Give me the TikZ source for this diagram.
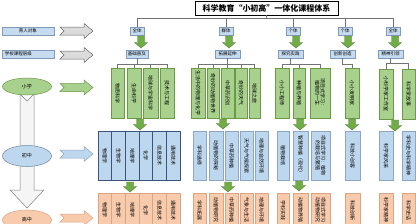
\documentclass[tikz,border=0pt]{standalone}
\usepackage{fontspec}
\usepackage{graphicx}
\setmainfont{Noto Sans CJK SC}
\usetikzlibrary{calc,shapes.geometric}
\XeTeXlinebreaklocale "zh"
\XeTeXlinebreakskip = 0pt plus 1pt

\definecolor{gF}{HTML}{A9D18E}
\definecolor{gB}{HTML}{6A9A45}
\definecolor{gA}{HTML}{70AD47}
\definecolor{gAB}{HTML}{4F7F32}
\definecolor{bF}{HTML}{BDD7EE}
\definecolor{bB}{HTML}{8EA6C2}
\definecolor{bD}{HTML}{3B5578}
\definecolor{oF}{HTML}{F8CBAD}
\definecolor{oB}{HTML}{D9A585}
\definecolor{lF}{HTML}{C6DBF0}
\definecolor{lB}{HTML}{7F9BBA}

\newcommand\vt[2]{\rotatebox{-90}{\parbox{#1}{\centering\fontsize{5}{5.6}\selectfont #2}}}
\newcommand\dnarr[3]{\path[darr] (#1-3.5,#2) -- (#1+3.5,#2) -- (#1+3.5,#3-5.5) -- (#1+6.5,#3-5.5) -- (#1,#3) -- (#1-6.5,#3-5.5) -- (#1-3.5,#3-5.5) -- cycle;}
\newcommand\rarr[2]{\path[#2] (60,#1-4) -- (84,#1-4) -- (84,#1-7.5) -- (93,#1) -- (84,#1+7.5) -- (84,#1+4) -- (60,#1+4) -- (64,#1) -- cycle;}

\begin{document}
\begin{tikzpicture}[x=1pt,y=-1pt,
  tl/.style={draw=black!55, line width=0.5pt},
  gbox/.style={draw=gB, fill=gF, line width=0.5pt, inner sep=0pt, minimum height=50pt},
  bbox/.style={draw=bB, fill=bF, line width=0.5pt, inner sep=0pt, minimum height=49pt},
  bdbox/.style={bbox, draw=bD},
  obox/.style={draw=oB, fill=oF, line width=0.5pt, inner sep=0pt, minimum height=34pt},
  lbox/.style={draw=lB, fill=lF, line width=0.5pt, inner sep=0pt, minimum height=8pt, font=\fontsize{4.5}{5}\selectfont},
  darr/.style={fill=gA, draw=gAB, line width=0.4pt},
  ell/.style={ellipse, inner sep=0pt, line width=0.5pt, font=\fontsize{5}{5}\selectfont}]
\useasboundingbox (0,0) rectangle (416,223);
\clip (0,0) rectangle (416,223);
\fill[white] (0,0) rectangle (416,223);

% title
\node[draw=black, line width=0.7pt, minimum width=143pt, minimum height=14pt, inner sep=0pt, font=\fontsize{8}{8}\selectfont\bfseries] (title) at (266.5,8) {科学教育“小初高”一体化课程体系};

% left labels
\node[lbox, minimum width=52pt] (yr) at (28,31) {育人对象};
\node[lbox, minimum width=52pt, text width=46pt, align=left] (kc) at (28,54) {学校课程层级};
\rarr{31}{fill=black!14, draw=black!60, line width=0.5pt}
\rarr{55}{fill=black!14, draw=black!60, line width=0.5pt}
\rarr{87.5}{fill=gF, draw=gB, line width=0.5pt}
\rarr{154}{fill=bF, draw=bB, line width=0.5pt}
\rarr{218}{fill=oF, draw=oB, line width=0.5pt}

% big vertical arrow
\path[fill=black!4, draw=black!50, line width=0.5pt] (20,94) -- (27,101) -- (34,94) -- (34,190) -- (44,190) -- (27,208) -- (10,190) -- (20,190) -- cycle;
\node[ell, fill=gF, draw=gB, minimum width=49pt, minimum height=17pt] (xx) at (27,86.5) {小学};
\node[ell, fill=bF, draw=bB!80!black, minimum width=49pt, minimum height=21pt] (cz) at (27,156) {初中};
\node[ell, fill=oF, draw=oB, minimum width=49pt, minimum height=20pt] (gz) at (27,220) {高中};

% top boxes
\node[lbox, minimum width=14pt] (t1) at (137,31) {全体};
\node[lbox, minimum width=14pt] (t2) at (226,31) {群体};
\node[lbox, minimum width=14pt] (t3) at (293,31) {个体};
\node[lbox, minimum width=14pt] (t4) at (345,31) {个体};
\node[lbox, minimum width=14pt] (t5) at (393,31) {全体};
\foreach \t in {t1,t2,t3,t4,t5}{\draw[tl] (title.south) -- ++(0,3) -| (\t.north);}

% mid boxes
\node[lbox, minimum width=22pt] (m1) at (137,54) {基础普及};
\node[lbox, minimum width=25pt] (m2) at (227.5,54) {拓展延伸};
\node[lbox, minimum width=25pt] (m3) at (290.5,54) {探究实践};
\node[lbox, minimum width=25pt] (m4) at (342.5,54) {创新创造};
\node[lbox, minimum width=25pt] (m5) at (390.5,54) {精神引领};

\dnarr{141}{36}{48}
\dnarr{229}{36}{48}
\dnarr{296}{36}{48}
\dnarr{348}{36}{48}
\dnarr{395}{36}{48}

% green row
\node[gbox, minimum width=13pt] (g11) at (117.5,93) {\vt{46pt}{物质科学}};
\node[gbox, minimum width=14pt] (g12) at (134,93) {\vt{46pt}{生命科学}};
\node[gbox, minimum width=15pt] (g13) at (150.5,93) {\vt{46pt}{地球与宇宙科学}};
\node[gbox, minimum width=14pt] (g14) at (167,93) {\vt{46pt}{技术与工程}};
\node[gbox, minimum width=14pt] (g21) at (198,93) {\vt{46pt}{生活中的物理与化学}};
\node[gbox, minimum width=12pt] (g22) at (213,93) {\vt{46pt}{奇妙的动植物世界}};
\node[gbox, minimum width=13pt] (g23) at (227.5,93) {\vt{46pt}{中草药识别}};
\node[gbox, minimum width=12pt] (g24) at (241,93) {\vt{46pt}{奇妙的天气}};
\node[gbox, minimum width=11pt] (g25) at (254.5,93) {\vt{46pt}{地球之旅}};
\node[gbox, minimum width=14pt] (g31) at (282,93) {\vt{46pt}{小小工程师}};
\node[gbox, minimum width=12pt] (g32) at (299,93) {\vt{46pt}{种植与养殖}};
\node[gbox, minimum width=20pt] (g33) at (320,93) {\vt{46pt}{项目式学习：\\植物的一生}};
\node[gbox, minimum width=14pt] (g41) at (352,93) {\vt{46pt}{小小发明家}};
\node[gbox, minimum width=14pt] (g51) at (386,94) {\vt{46pt}{小科学家工作室}};
\node[gbox, minimum width=13pt] (g52) at (408.5,94) {\vt{46pt}{科学家故事}};

\foreach \c in {g11,g12,g13,g14}{\draw[tl] (m1.south) -- ++(0,6) -| (\c.north);}
\foreach \c in {g21,g22,g23,g24,g25}{\draw[tl] (m2.south) -- ++(0,6) -| (\c.north);}
\foreach \c in {g31,g32,g33}{\draw[tl] (m3.south) -- ++(0,6) -| (\c.north);}
\draw[tl] (m4.south) -- ++(0,6) -| (g41.north);
\foreach \c in {g51,g52}{\draw[tl] (m5.south) -- ++(0,5) -| (\c.north);}

\dnarr{140}{119}{130}
\dnarr{223}{119}{129}
\dnarr{300}{119}{130}
\dnarr{352}{119}{130}
\dnarr{395}{120}{131}

% blue row
\node[bdbox, minimum width=13.7pt] (b11) at (104.8,155.5) {\vt{45pt}{物理学}};
\node[bdbox, minimum width=13.7pt] (b12) at (118.5,155.5) {\vt{45pt}{生物学}};
\node[bdbox, minimum width=13.7pt] (b13) at (132.2,155.5) {\vt{45pt}{地理学}};
\node[bdbox, minimum width=13.7pt] (b14) at (145.8,155.5) {\vt{45pt}{化学}};
\node[bdbox, minimum width=13.7pt] (b15) at (159.5,155.5) {\vt{45pt}{信息技术}};
\node[bdbox, minimum width=13.7pt] (b16) at (173.2,155.5) {\vt{45pt}{通用技术}};
\node[bbox, minimum width=13pt] (b21) at (199.5,155.5) {\vt{45pt}{学科选修}};
\node[bbox, minimum width=14pt] (b22) at (216,155.5) {\vt{45pt}{动植物的探秘}};
\node[bbox, minimum width=13pt] (b23) at (231.5,155.5) {\vt{45pt}{中草药种植}};
\node[bbox, minimum width=13pt] (b24) at (246.5,155.5) {\vt{45pt}{天气与气候探索}};
\node[bbox, minimum width=13pt] (b25) at (261.5,155.5) {\vt{45pt}{地理与自然环境}};
\node[bbox, minimum width=12pt] (b31) at (283,155.5) {\vt{45pt}{植物栽培}};
\node[bbox, minimum width=15pt] (b32) at (300.5,155.5) {\vt{45pt}{智慧种植（现代）}};
\node[bbox, minimum width=19pt] (b33) at (320.5,155.5) {\vt{45pt}{项目式学习：植物\\的栽培与繁殖}};
\node[bbox, minimum width=15pt] (b41) at (352.5,155.5) {\vt{45pt}{科技小创客}};
\node[bbox, minimum width=14pt] (b51) at (386,155.5) {\vt{45pt}{科学家风采}};
\node[bbox, minimum width=13pt] (b52) at (408.5,155.5) {\vt{45pt}{学科史与科学精神}};

\dnarr{130}{182}{192}
\dnarr{228}{182}{192}
\dnarr{299}{181}{191}

% orange row
\node[obox, minimum width=13.7pt] (o11) at (104.8,210) {\vt{26pt}{物理学}};
\node[obox, minimum width=13.7pt] (o12) at (118.5,210) {\vt{26pt}{生物学}};
\node[obox, minimum width=13.7pt] (o13) at (132.2,210) {\vt{26pt}{地理学}};
\node[obox, minimum width=13.7pt] (o14) at (145.8,210) {\vt{26pt}{化学}};
\node[obox, minimum width=13.7pt] (o15) at (159.5,210) {\vt{26pt}{信息技术}};
\node[obox, minimum width=13.7pt] (o16) at (173.2,210) {\vt{26pt}{通用技术}};
\node[obox, minimum width=13pt] (o21) at (199.5,210) {\vt{26pt}{学科拓展}};
\node[obox, minimum width=14pt] (o22) at (216,210) {\vt{26pt}{动植物研究}};
\node[obox, minimum width=13pt] (o23) at (231.5,210) {\vt{26pt}{中草药种植}};
\node[obox, minimum width=13pt] (o24) at (246.5,210) {\vt{26pt}{气象与生活}};
\node[obox, minimum width=13pt] (o25) at (261.5,210) {\vt{26pt}{地理与环境}};
\node[obox, minimum width=12pt] (o31) at (283,210) {\vt{26pt}{学科实践}};
\node[obox, minimum width=15pt] (o32) at (300.5,210) {\vt{26pt}{动植物养殖}};
\node[obox, minimum width=19pt] (o33) at (320.5,210) {\vt{26pt}{项目式学习\\动植物研究}};
\node[obox, minimum width=15pt] (o41) at (352.5,210) {\vt{26pt}{科技创新}};
\node[obox, minimum width=14pt] (o51) at (386,210) {\vt{26pt}{科学家精神}};
\node[obox, minimum width=13pt] (o52) at (408.5,210) {\vt{26pt}{科学史话}};
\end{tikzpicture}
\end{document}
